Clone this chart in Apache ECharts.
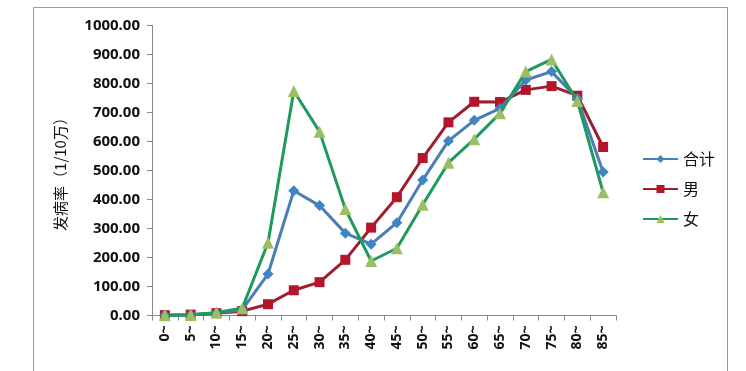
<!DOCTYPE html>
<html>
<head>
<meta charset="utf-8">
<script src="https://cdn.jsdelivr.net/npm/echarts@6/dist/echarts.min.js"></script>
<style>html,body{margin:0;padding:0;background:#fff;}#c{width:746px;height:371px;}</style>
</head>
<body>
<div id="c"></div>
<script>
var categories = ['0~','5~','10~','15~','20~','25~','30~','35~','40~','45~','50~','55~','60~','65~','70~','75~','80~','85~'];
var totalValues = [1, 3, 9, 20, 143, 430, 379, 284, 246, 320, 467, 602, 673, 714, 812, 841, 748, 495];
var maleValues = [1, 3, 8, 15, 39, 87, 115, 192, 303, 408, 543, 666, 737, 736, 778, 791, 758, 581];
var femaleValues = [1, 2, 10, 25, 251, 774, 634, 367, 188, 232, 382, 527, 608, 697, 841, 883, 740, 425];
var seriesNames = ['合计', '男', '女'];
var yTicks = [0, 100, 200, 300, 400, 500, 600, 700, 800, 900, 1000];

var chart = echarts.init(document.getElementById('c'));
var font = '"Noto Sans", "Noto Sans CJK SC", sans-serif';
var cjk = '"Noto Sans CJK SC", sans-serif';
chart.setOption({
  backgroundColor: '#fff',
  animation: false,
  graphic: [{
    type: 'rect', shape: {x: 33.5, y: 7.5, width: 694, height: 380},
    style: {fill: 'none', stroke: '#9a9a9a', lineWidth: 1}, silent: true
  }],
  grid: {left: 152, right: 130, top: 25.5, bottom: 55.5},
  legend: {
    orient: 'vertical', left: 637, top: 146, itemGap: 14,
    itemWidth: 35, itemHeight: 10,
    textStyle: {fontSize: 16, color: '#111', fontFamily: cjk},
    data: seriesNames
  },
  xAxis: {
    type: 'category', data: categories, boundaryGap: true,
    axisLine: {lineStyle: {color: '#888', width: 1}},
    axisTick: {show: true, length: 5, lineStyle: {color: '#888'}},
    axisLabel: {rotate: 90, fontSize: 14, fontWeight: 'bold', color: '#111', margin: 10, fontFamily: font}
  },
  yAxis: {
    type: 'value', min: yTicks[0], max: yTicks[yTicks.length-1], interval: 100,
    name: '发病率（1/10万）', nameLocation: 'middle', nameRotate: 90, nameGap: 84,
    nameTextStyle: {fontSize: 15, color: '#111', fontFamily: cjk},
    axisLine: {show: true, lineStyle: {color: '#888', width: 1}},
    axisTick: {show: true, length: 5, lineStyle: {color: '#888'}},
    splitLine: {show: false},
    axisLabel: {fontSize: 15, fontWeight: 'bold', color: '#111', margin: 12, fontFamily: font,
      formatter: function (v) { return v.toFixed(2); }}
  },
  series: [
    {name: seriesNames[0], type: 'line', data: totalValues, symbol: 'diamond', symbolSize: 11,
      lineStyle: {color: '#4a7eb5', width: 3}, itemStyle: {color: '#3d85c6'}, z: 3},
    {name: seriesNames[1], type: 'line', data: maleValues, symbol: 'rect', symbolSize: 10,
      lineStyle: {color: '#9c1f2e', width: 3}, itemStyle: {color: '#b5152b'}, z: 2},
    {name: seriesNames[2], type: 'line', data: femaleValues, symbol: 'triangle', symbolSize: 12,
      lineStyle: {color: '#1f9a5e', width: 3}, itemStyle: {color: '#9bc063'}, z: 4}
  ]
});
</script>
</body>
</html>
